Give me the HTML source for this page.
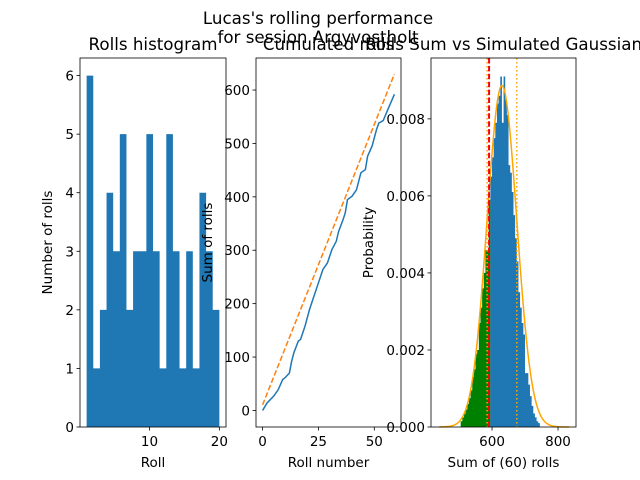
<!DOCTYPE html>
<html><head><meta charset="utf-8"><style>
body{margin:0;background:#fff}
svg{display:block;font-family:"DejaVu Sans","Liberation Sans",sans-serif}
</style></head><body>
<svg id="fig" width="640" height="480" xmlns="http://www.w3.org/2000/svg">
<rect width="640" height="480" fill="#fff"/>
<text x="318" y="24" font-size="16.7" text-anchor="middle">Lucas's rolling performance</text>
<text x="318" y="43" font-size="16.7" text-anchor="middle">for session Argyvostholt</text>
<g id="g1"></g>
<g id="g2"></g>
<g id="g3"></g>
</svg>
<script>
const rollValues = [1,2,3,4,5,6,7,8,9,10,11,12,13,14,15,16,17,18,19,20];
const rollCounts = [6,1,2,4,3,5,2,3,3,5,3,1,5,3,1,3,1,4,3,2];
const hist1YTicks = [0,1,2,3,4,5,6];
const hist1XTicks = [10,20];

const rollIdx = [0,2,5,7,9,10,12,13,14,16,17,19,21,23,25,27,29,31,33,34,36,37,38,40,42,44,46,47,49,51,52,54,56,59];
const cumSum = [0,14,27,39,58,61,70,92,108,130,133,158,189,214,239,264,276,301,317,335,357,370,395,401,413,445,451,476,495,526,538,543,563,592];
const expectedPerRoll = 10.5;
const nRolls = 60;
const cumYTicks = [0,100,200,300,400,500,600];
const cumXTicks = [0,25,50];

const simBinLeft = [505,510,515,520,525,530,535,540,545,550,555,560,565,570,575,580,585,590,595,600,605,610,615,620,625,630,635,640,645,650,655,660,665,670,675,680,685,690,695,700,705,710,715,720,725,730,735,740];
const simDensity = [0.15,0.25,0.35,0.45,0.6,0.75,0.95,1.3,1.5,1.9,2.0,2.7,3.1,3.6,4.0,4.6,4.6,5.9,6.5,7.0,7.5,7.9,8.4,8.6,9.1,7.9,9.1,8.5,8.1,6.8,6.6,6.1,5.5,4.9,4.3,3.5,3.1,2.7,2.4,1.4,1.4,1.1,0.8,0.55,0.35,0.25,0.15,0.1];
const simBinWidth = 5;
const gaussMu = [630];
const gaussSigma = [45];
const observedSum = [591];
const gaussYTicks = [0,0.002,0.004,0.006,0.008];
const gaussXTicks = [600,800];

const NS="http://www.w3.org/2000/svg";
function mk(parent,tag,attrs,text){const e=document.createElementNS(NS,tag);for(const k in attrs)e.setAttribute(k,attrs[k]);if(text!==undefined)e.textContent=text;parent.appendChild(e);return e;}
const T=58,B=427;

function stepPath(lefts,w,heights,sx,sy){
  let d='M'+sx(lefts[0])+','+B;
  lefts.forEach((a,i)=>{d+=' L'+sx(a)+','+sy(heights[i])+' L'+sx(a+w)+','+sy(heights[i]);});
  d+=' L'+sx(lefts[lefts.length-1]+w)+','+B+' Z';return d;
}

function axes(g,L,R,sx,sy,xt,yt,yfmt,title,xl,yl,ylx){
  for(const v of yt){const y=sy(v);
    const t=mk(g,'line',{x1:L-3.5,x2:L,y1:y,y2:y,stroke:'#000','stroke-width':0.8});
    
    const l=mk(g,'text',{x:L-6,y:y+5,'font-size':13.5,'text-anchor':'end'},yfmt(v));
    }
  for(const v of xt){const x=sx(v);
    const t=mk(g,'line',{x1:x,x2:x,y1:B,y2:B+3.5,stroke:'#000','stroke-width':0.8});
    
    const l=mk(g,'text',{x:x,y:B+19,'font-size':13.5,'text-anchor':'middle'},String(v));
    }
  const f=mk(g,'rect',{x:L,y:T,width:R-L,height:B-T,fill:'none',stroke:'#000','stroke-width':0.8});
  
  const ti=mk(g,'text',{x:(L+R)/2,y:50,'font-size':16.7,'text-anchor':'middle'},title);
  
  const xa=mk(g,'text',{x:(L+R)/2,y:467,'font-size':13.5,'text-anchor':'middle'},xl);
  
  const ya=mk(g,'text',{x:ylx,y:(T+B)/2,'font-size':13.5,'text-anchor':'middle',transform:`rotate(-90 ${ylx} ${(T+B)/2})`},yl);
  
}

// Panel 1
(function(){
  const g=document.getElementById('g1');const L=80,R=226;
  const x0=0.05,x1=20.95,ymax=6.3;
  const sx=v=>L+(v-x0)/(x1-x0)*(R-L), sy=v=>B-v/ymax*(B-T);
  const w=19/20;
  const lefts=rollValues.map((v,i)=>1+i*w);
  const p=mk(g,'path',{d:stepPath(lefts,w,rollCounts,sx,sy),fill:'#1f77b4'});
  
  axes(g,L,R,sx,sy,hist1XTicks,hist1YTicks,v=>String(v),'Rolls histogram','Roll','Number of rolls',52);
})();

// Panel 2
(function(){
  const g=document.getElementById('g2');const L=256,R=401;
  const x0=-2.95,x1=61.95,y0=-31,y1=660;
  const sx=v=>L+(v-x0)/(x1-x0)*(R-L), sy=v=>B-(v-y0)/(y1-y0)*(B-T);
  const exp=mk(g,'line',{x1:sx(0),y1:sy(expectedPerRoll),x2:sx(nRolls-1),y2:sy(expectedPerRoll*nRolls),stroke:'#ff7f0e','stroke-width':1.5,'stroke-dasharray':'5.5,2.4'});
  
  const p=mk(g,'polyline',{points:rollIdx.map((v,i)=>sx(v)+','+sy(cumSum[i])).join(' '),fill:'none',stroke:'#1f77b4','stroke-width':1.5});
  
  axes(g,L,R,sx,sy,cumXTicks,cumYTicks,v=>String(v),'Cumulated rolls','Roll number','Sum of rolls',212);
})();

// Panel 3
(function(){
  const g=document.getElementById('g3');const L=431,R=576;
  const x0=415,x1=854.5,ymax=0.00958;
  const sx=v=>L+(v-x0)/(x1-x0)*(R-L), sy=v=>B-v/ymax*(B-T);
  const dens=simDensity.map(v=>v/1000);
  const gl=[],gh=[],bl=[],bh=[];
  simBinLeft.forEach((a,i)=>{if(a<observedSum[0]){gl.push(a);gh.push(dens[i]);}else{bl.push(a);bh.push(dens[i]);}});
  const pg=mk(g,'path',{d:stepPath(gl,simBinWidth,gh,sx,sy),fill:'#008000'});
  
  const pb=mk(g,'path',{d:stepPath(bl,simBinWidth,bh,sx,sy),fill:'#1f77b4'});
  
  const mu=gaussMu[0],s=gaussSigma[0];const pts=[];
  for(let x=440;x<=835;x+=2){const d=Math.exp(-0.5*((x-mu)/s)**2)/(s*Math.sqrt(2*Math.PI));pts.push(sx(x)+','+sy(d));}
  const c=mk(g,'polyline',{points:pts.join(' '),fill:'none',stroke:'orange','stroke-width':1.5});
  
  [mu-s,mu+s].forEach(v=>{const l=mk(g,'line',{x1:sx(v),x2:sx(v),y1:T,y2:B,stroke:'orange','stroke-width':1.5,'stroke-dasharray':'1.5,2.5'});
    });
  const o=mk(g,'line',{x1:sx(observedSum[0]),x2:sx(observedSum[0]),y1:T,y2:B,stroke:'red','stroke-width':2,'stroke-dasharray':'5.5,2.4'});
  
  axes(g,L,R,sx,sy,gaussXTicks,gaussYTicks,v=>v.toFixed(3),'Rolls Sum vs Simulated Gaussian','Sum of (60) rolls','Probability',373);
})();
</script>
</body></html>
